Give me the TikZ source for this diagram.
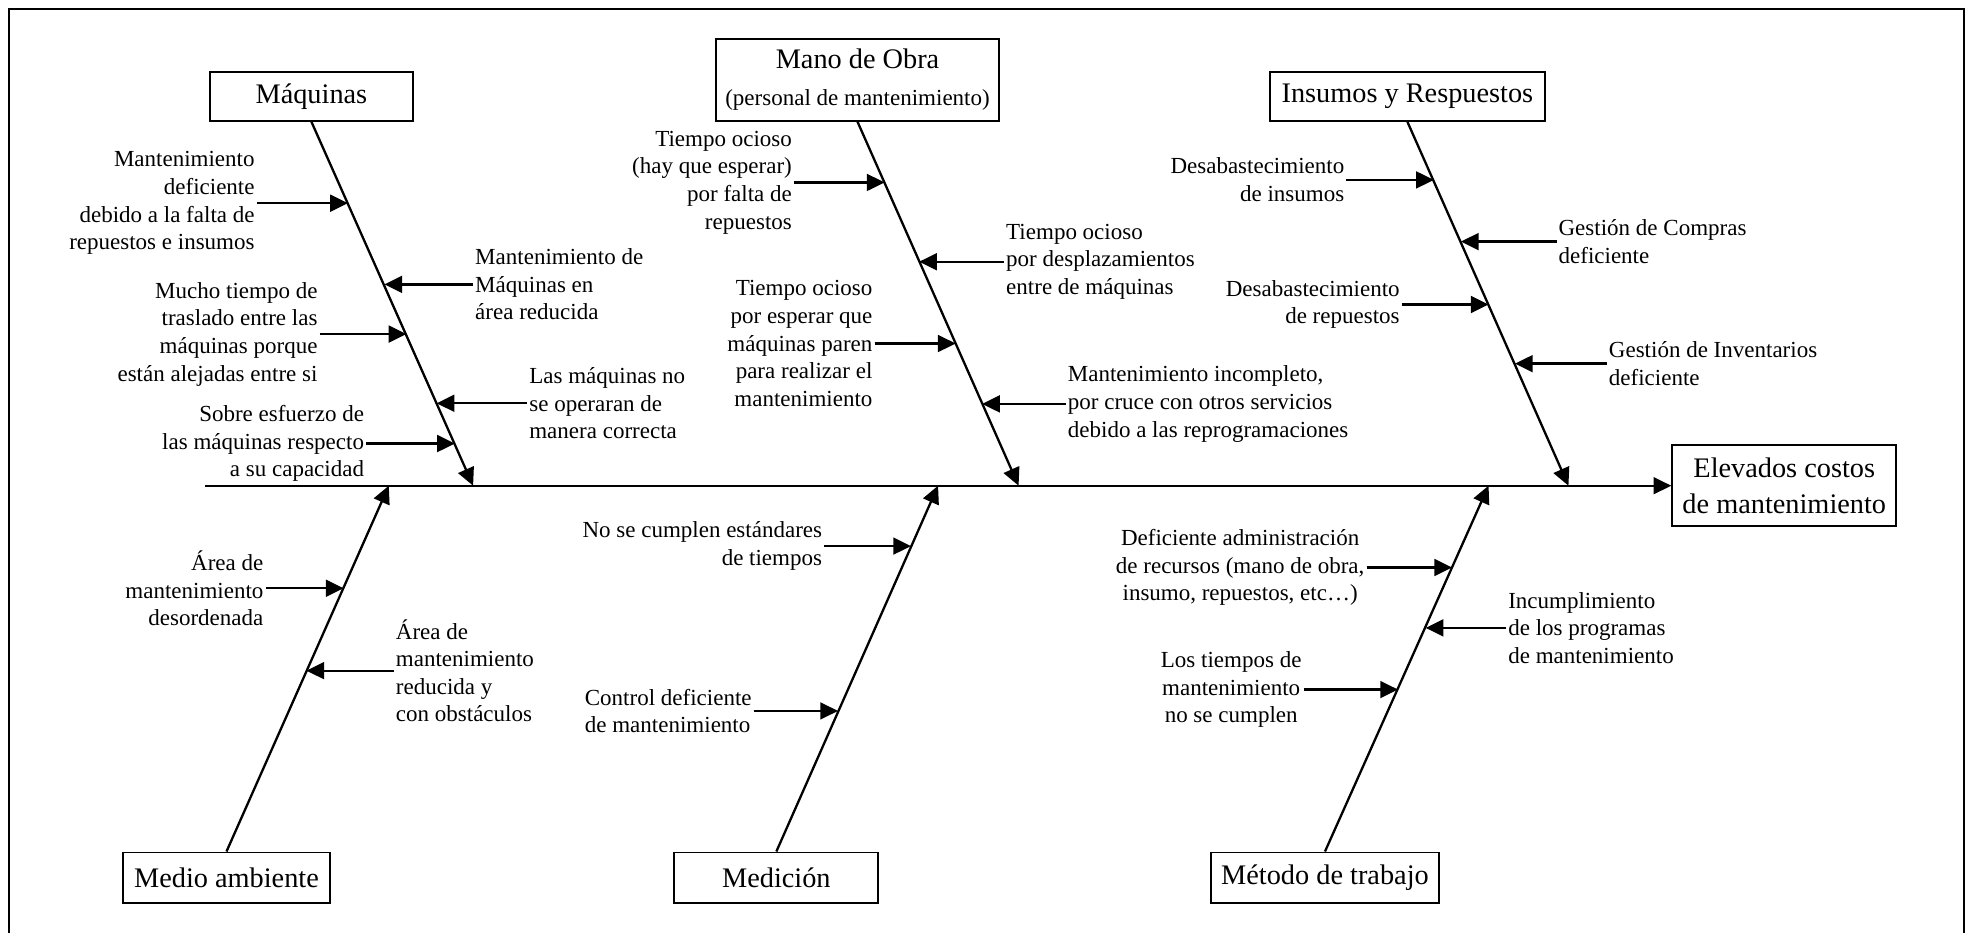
\documentclass[tikz,border=0pt]{standalone}
\usepackage{fontspec}
\setmainfont{Liberation Serif}
\usetikzlibrary{arrows.meta}

\begin{document}
\begin{tikzpicture}[x=0.025cm,y=-0.025cm,
    >={Triangle[length=10pt,width=9.5pt]},
    box/.style={draw,line width=1.1pt,inner sep=2pt,minimum height=0.975cm,font=\fontsize{16}{19}\selectfont},
    cause/.style={inner sep=1pt,font=\fontsize{13}{15.6}\selectfont},
    bone/.style={line width=1.3pt,->},
    arr/.style={line width=1.3pt,->}]
  \useasboundingbox (0,0) rectangle (1568,741);
  % frame
  \draw[line width=1pt] (7,760) -- (7,7) -- (1561,7) -- (1561,760);
  % categories
  \node[box,minimum width=4.03cm] (maq) at (247.5,76.5) {Máquinas};
  \node[box,minimum width=5.625cm,minimum height=1.625cm,align=center] (mo) at (681.5,63.5)
    {Mano de Obra\\[2pt]{\fontsize{13}{15.6}\selectfont (personal de mantenimiento)}};
  \node[box,minimum width=5.475cm] (ins) at (1118.5,76.5) {Insumos y Respuestos};
  \node[box,minimum width=4.1cm,minimum height=1cm] (med) at (180,697.5) {Medio ambiente};
  \node[box,minimum width=4.05cm,minimum height=1cm] (mdc) at (617,697.5) {Medición};
  \node[box,minimum width=4.54cm,minimum height=1cm] (met) at (1053,697.5) {Método de trabajo};
  \node[box,minimum width=4.45cm,minimum height=1.6cm,align=center,font=\fontsize{16}{20}\selectfont]
    (efe) at (1418,386) {Elevados costos\\de mantenimiento};
  % spine
  \coordinate (cola) at (163,386);
  \draw[arr] (cola) -- (efe);
  % bones
  \coordinate (maqtip) at (376,386);
  \coordinate (motip) at (809.5,386);
  \coordinate (instip) at (1246.5,386);
  \coordinate (medtip) at (309,386);
  \coordinate (mdctip) at (745.5,386);
  \coordinate (mettip) at (1183,386);
  \draw[bone] (maq.south) -- (maqtip);
  \draw[bone] (mo.south) -- (motip);
  \draw[bone] (ins.south) -- (instip);
  \draw[bone] (med.north) -- (medtip);
  \draw[bone] (mdc.north) -- (mdctip);
  \draw[bone] (met.north) -- (mettip);

  % causes: Maquinas
  \node[cause,align=right,anchor=east] (m1) at (204,161.5)
    {Mantenimiento\\deficiente\\debido a la falta de\\repuestos e insumos};
  \node[cause,align=right,anchor=east] (m2) at (254,265.5)
    {Mucho tiempo de\\traslado entre las\\máquinas porque\\están alejadas entre si};
  \node[cause,align=right,anchor=east] (m3) at (291,352.5)
    {Sobre esfuerzo de\\las máquinas respecto\\a su capacidad};
  \node[cause,align=left,anchor=west] (m4) at (376,226)
    {Mantenimiento de\\Máquinas en\\área reducida};
  \node[cause,align=left,anchor=west] (m5) at (419,320.5)
    {Las máquinas no\\se operaran de\\manera correcta};
  \coordinate (m1t) at (276.5,161.5);
  \coordinate (m2t) at (323,265.5);
  \coordinate (m3t) at (361.5,352.5);
  \coordinate (m4t) at (305.5,226);
  \coordinate (m5t) at (347,320.5);
  \draw[arr] (m1) -- (m1t);
  \draw[arr] (m2) -- (m2t);
  \draw[arr] (m3) -- (m3t);
  \draw[arr] (m4) -- (m4t);
  \draw[arr] (m5) -- (m5t);

  % causes: Mano de Obra
  \node[cause,align=right,anchor=east] (o1) at (631,145)
    {Tiempo ocioso\\(hay que esperar)\\por falta de\\repuestos};
  \node[cause,align=right,anchor=east] (o2) at (695,273)
    {Tiempo ocioso\\por esperar que\\máquinas paren\\para realizar el\\mantenimiento};
  \node[cause,align=left,anchor=west] (o3) at (798,208)
    {Tiempo ocioso\\por desplazamientos\\entre de máquinas};
  \node[cause,align=left,anchor=west] (o4) at (847,321)
    {Mantenimiento incompleto,\\por cruce con otros servicios\\debido a las reprogramaciones};
  \coordinate (o1t) at (703,145);
  \coordinate (o2t) at (759.5,273);
  \coordinate (o3t) at (730.5,208);
  \coordinate (o4t) at (780.5,321);
  \draw[arr] (o1) -- (o1t);
  \draw[arr] (o2) -- (o2t);
  \draw[arr] (o3) -- (o3t);
  \draw[arr] (o4) -- (o4t);

  % causes: Insumos
  \node[cause,align=right,anchor=east] (i1) at (1070,143)
    {Desabastecimiento\\de insumos};
  \node[cause,align=right,anchor=east] (i2) at (1114,242)
    {Desabastecimiento\\de repuestos};
  \node[cause,align=left,anchor=west] (i3) at (1237,192)
    {Gestión de Compras\\deficiente};
  \node[cause,align=left,anchor=west] (i4) at (1277,289)
    {Gestión de Inventarios\\deficiente};
  \coordinate (i1t) at (1139.5,143);
  \coordinate (i2t) at (1183,242);
  \coordinate (i3t) at (1161,192);
  \coordinate (i4t) at (1204,289);
  \draw[arr] (i1) -- (i1t);
  \draw[arr] (i2) -- (i2t);
  \draw[arr] (i3) -- (i3t);
  \draw[arr] (i4) -- (i4t);

  % causes: Medio ambiente
  \node[cause,align=right,anchor=east] (a1) at (211,467.5)
    {Área de\\mantenimiento\\desordenada};
  \node[cause,align=left,anchor=west] (a2) at (313,533)
    {Área de\\mantenimiento\\reducida y\\con obstáculos};
  \coordinate (a1t) at (273,467.5);
  \coordinate (a2t) at (243.5,533);
  \draw[arr] (a1) -- (a1t);
  \draw[arr] (a2) -- (a2t);

  % causes: Medicion
  \node[cause,align=right,anchor=east] (d1) at (655,434)
    {No se cumplen estándares\\de tiempos};
  \node[cause,align=left,anchor=east] (d2) at (599,565)
    {Control deficiente\\de mantenimiento};
  \coordinate (d1t) at (724,434);
  \coordinate (d2t) at (666,565);
  \draw[arr] (d1) -- (d1t);
  \draw[arr] (d2) -- (d2t);

  % causes: Metodo de trabajo
  \node[cause,align=center,anchor=east] (t1) at (1086,451)
    {Deficiente administración\\de recursos (mano de obra,\\insumo, repuestos, etc…)};
  \node[cause,align=center,anchor=east] (t2) at (1036,548)
    {Los tiempos de\\mantenimiento\\no se cumplen};
  \node[cause,align=left,anchor=west] (t3) at (1197,499)
    {Incumplimiento\\de los programas\\de mantenimiento};
  \coordinate (t1t) at (1154,451);
  \coordinate (t2t) at (1111,548);
  \coordinate (t3t) at (1133,499);
  \draw[arr] (t1) -- (t1t);
  \draw[arr] (t2) -- (t2t);
  \draw[arr] (t3) -- (t3t);
\end{tikzpicture}
\end{document}
